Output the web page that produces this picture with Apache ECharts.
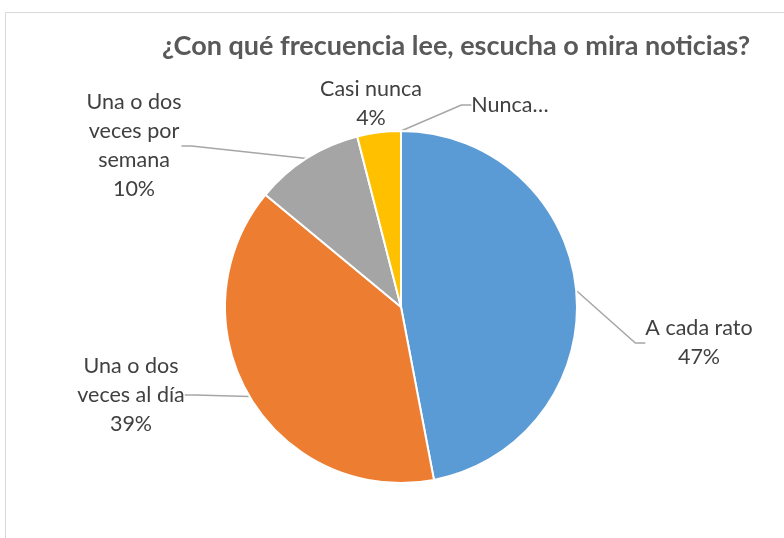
<!DOCTYPE html>
<html>
<head>
<meta charset="utf-8">
<script src="https://cdn.jsdelivr.net/npm/echarts@6/dist/echarts.min.js"></script>
<style>
html, body { margin: 0; padding: 0; background: #fff; }
#chart { width: 784px; height: 538px; }
</style>
</head>
<body>
<div id="chart"></div>
<script>
// datos de la encuesta
var categories = ['A cada rato', 'Una o dos veces al día', 'Una o dos veces por semana', 'Casi nunca', 'Nunca'];
var values = [47, 39, 10, 4, 0];
// texto de etiqueta con saltos de línea como en el original
var labelNames = ['A cada rato', 'Una o dos\nveces al día', 'Una o dos\nveces por\nsemana', 'Casi nunca', 'Nunca…'];
var colors = ['#5B9BD5', '#ED7D31', '#A5A5A5', '#FFC000', '#4472C4'];
// posicion de cada etiqueta (centro del bloque de texto)
var labelPos = [[699, 343], [131, 395], [134, 146], [371, 104], [510, 105]];

var chartDom = document.getElementById('chart');
var myChart = echarts.init(chartDom);

var seriesData = categories.map(function (name, i) {
  var item = { name: name, value: values[i], itemStyle: { color: colors[i] } };
  if (i == 3) {
    item.labelLine = { show: false };
  }
  if (i == 4) {
    item.label = { formatter: labelNames[i] };
  }
  return item;
});

var option = {
  animation: false,
  graphic: [{
    type: 'rect',
    shape: { x: 5.5, y: 12.5, width: 900, height: 600 },
    style: { fill: 'none', stroke: '#D9D9D9', lineWidth: 1 },
    silent: true
  }],
  title: {
    text: '¿Con qué frecuencia lee, escucha o mira noticias?',
    left: 157,
    top: 28,
    textStyle: {
      fontFamily: 'Lato',
      fontWeight: 'bold',
      fontSize: 27,
      color: '#595959'
    }
  },
  series: [{
    type: 'pie',
    center: [401, 307],
    radius: 176,
    startAngle: 90,
    clockwise: true,
    data: seriesData,
    itemStyle: {
      borderColor: '#fff',
      borderWidth: 2
    },
    label: {
      show: true,
      position: 'outside',
      fontFamily: 'Lato',
      fontSize: 21.5,
      lineHeight: 29,
      color: '#404040',
      align: 'center',
      formatter: function (p) {
        return labelNames[p.dataIndex] + '\n' + p.percent.toFixed(0) + '%';
      }
    },
    labelLine: {
      show: true,
      length: 20,
      length2: 10,
      lineStyle: { color: '#A6A6A6', width: 1.5 }
    },
    labelLayout: function (params) {
      var pos = labelPos[params.dataIndex];
      return {
        x: pos[0],
        y: pos[1],
        align: 'center',
        verticalAlign: 'middle'
      };
    }
  }]
};

myChart.setOption(option);
</script>
</body>
</html>
